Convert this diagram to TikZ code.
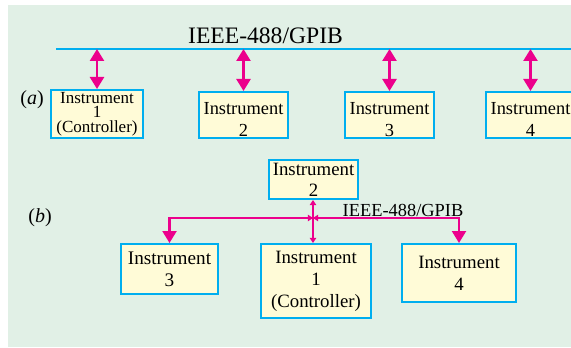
\documentclass[tikz,border=0pt]{standalone}
\usepackage{fontspec}
\setmainfont{Liberation Serif}
\usetikzlibrary{arrows.meta}
\definecolor{busblue}{HTML}{00AEEF}
\definecolor{linkpink}{HTML}{EC008C}
\definecolor{panelgreen}{HTML}{E1F0E6}
\definecolor{boxyellow}{HTML}{FFFBD7}
\newcommand{\boxfont}{\fontsize{9.2}{10.8}\selectfont}
\newcommand{\busfont}{\fontsize{9.2}{10}\selectfont}
\newcommand{\topstrut}{\rule{0pt}{10.5pt}}
\tikzset{
  instbox/.style={draw=busblue, fill=boxyellow, line width=1pt, align=center,
    inner sep=0pt, font=\boxfont},
  link/.style={draw=linkpink, line width=1.1pt},
  bigtip/.tip={Triangle[length=6pt,width=7pt]},
  smalltip/.tip={Triangle[length=2.6pt,width=3.2pt]},
}
\begin{document}
\begin{tikzpicture}[x=0.5pt,y=-0.5pt]
\useasboundingbox (0,0) rectangle (571,347);
\fill[panelgreen] (8,5) rectangle (571,347);
% (a) linear bus
\coordinate (busL) at (56,49);
\coordinate (busR) at (575,49);
\draw[busblue, line width=1pt] (busL) -- (busR);
\node[anchor=base, font=\fontsize{11.8}{12}\selectfont] (title) at (265.5,44) {IEEE-488/GPIB};
\node[font=\fontsize{10}{12}\selectfont] (la) at (32,100) {(\textit{a})};
\node[instbox, minimum width=46pt, minimum height=24pt,
  font=\fontsize{8.5}{7.2}\selectfont] (a1) at (97,114) {Instrument\\1\\(Controller)};
\node[instbox, minimum width=44.5pt, minimum height=23pt] (a2) at (243.5,115) {\topstrut Instrument\\2};
\node[instbox, minimum width=44.5pt, minimum height=23pt] (a3) at (389.5,115) {\topstrut Instrument\\3};
\node[instbox, minimum width=44.5pt, minimum height=23pt] (a4) at (530.5,115) {\topstrut Instrument\\4};
\foreach \n in {a1,a2,a3,a4}
  \draw[link, line width=1.2pt, bigtip-bigtip] (\n.north |- busL) -- (\n.north);
% (b) star
\node[font=\fontsize{10}{12}\selectfont] (lb) at (40,218) {(\textit{b})};
\node[instbox, minimum width=44.5pt, minimum height=19.5pt, font=\fontsize{9.4}{10.5}\selectfont] (b2) at (313.5,179.5) {Instrument\\2};
\node[instbox, minimum width=48.5pt, minimum height=25pt, font=\fontsize{9.6}{11}\selectfont] (b3) at (169.5,269) {Instrument\\3};
\node[instbox, minimum width=55pt, minimum height=37pt, font=\fontsize{9.4}{11}\selectfont] (b1) at (316,281) {Instrument\\1\\(Controller)};
\node[instbox, minimum width=57pt, minimum height=29pt, font=\fontsize{9.4}{11}\selectfont] (b4) at (459,273) {Instrument\\4};
\coordinate (hub) at (313,218);
\node[anchor=base, font=\busfont] (busb) at (403,216) {IEEE-488/GPIB};
\draw[link, bigtip-smalltip] (b3.north) |- (hub);
\draw[link, smalltip-bigtip] (hub) -| (b4.north);
\draw[link, smalltip-smalltip] (hub |- b2.south) -- (hub |- b1.north);
\end{tikzpicture}
\end{document}
